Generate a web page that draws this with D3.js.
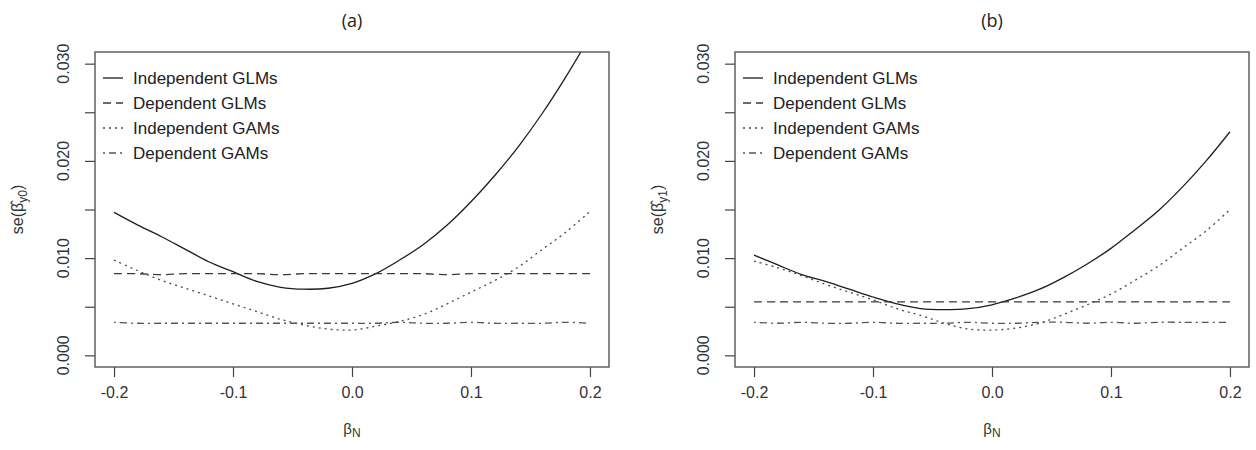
<!DOCTYPE html>
<html>
<head>
<meta charset="utf-8">
<script src="https://d3js.org/d3.v7.min.js"></script>
<style>
  body { margin: 0; background: #fff; }
  svg { display: block; }
</style>
</head>
<body>
<div id="chart"></div>
<script>
// x values (beta_N)
var betaN = [-0.20, -0.18, -0.16, -0.14, -0.12, -0.10, -0.08, -0.06, -0.04, -0.02,
              0.00, 0.02, 0.04, 0.06, 0.08, 0.10, 0.12, 0.14, 0.16, 0.18, 0.20];

// panel (a): se(beta_y0)
var indepGLM_a = [0.0147, 0.0134, 0.0122, 0.0109, 0.0096, 0.0086, 0.0076, 0.0070, 0.0068, 0.0069,
                  0.0074, 0.0084, 0.0098, 0.0114, 0.0134, 0.0158, 0.0185, 0.0215, 0.0249, 0.0287, 0.0328];
var depGLM_a   = [0.0084, 0.0084, 0.0083, 0.0084, 0.0084, 0.0084, 0.0084, 0.0083, 0.0084, 0.0084,
                  0.0084, 0.0084, 0.0084, 0.0084, 0.0083, 0.0084, 0.0084, 0.0084, 0.0084, 0.0084, 0.0084];
var indepGAM_a = [0.0098, 0.0087, 0.0077, 0.0069, 0.0061, 0.0053, 0.0045, 0.0037, 0.0031, 0.0027,
                  0.0026, 0.0030, 0.0035, 0.0042, 0.0053, 0.0065, 0.0077, 0.0091, 0.0109, 0.0127, 0.0148];
var depGAM_a   = [0.0034, 0.0033, 0.0033, 0.0033, 0.0033, 0.0033, 0.0033, 0.0033, 0.0033, 0.0033,
                  0.0033, 0.0033, 0.0034, 0.0033, 0.0033, 0.0034, 0.0033, 0.0033, 0.0033, 0.0034, 0.0033];

// panel (b): se(beta_y1)
var indepGLM_b = [0.0103, 0.0093, 0.0083, 0.0076, 0.0068, 0.0060, 0.0053, 0.0048, 0.0047, 0.0048,
                  0.0052, 0.0059, 0.0068, 0.0080, 0.0094, 0.0110, 0.0129, 0.0149, 0.0173, 0.0200, 0.0230];
var depGLM_b   = [0.0055, 0.0055, 0.0055, 0.0055, 0.0055, 0.0055, 0.0055, 0.0055, 0.0055, 0.0055,
                  0.0055, 0.0055, 0.0055, 0.0055, 0.0055, 0.0055, 0.0055, 0.0055, 0.0055, 0.0055, 0.0055];
var indepGAM_b = [0.0097, 0.0090, 0.0082, 0.0073, 0.0065, 0.0057, 0.0048, 0.0041, 0.0033, 0.0027,
                  0.0026, 0.0028, 0.0033, 0.0042, 0.0052, 0.0063, 0.0077, 0.0092, 0.0110, 0.0128, 0.0150];
var depGAM_b   = [0.0034, 0.0033, 0.0034, 0.0033, 0.0033, 0.0034, 0.0033, 0.0033, 0.0033, 0.0034,
                  0.0033, 0.0033, 0.0034, 0.0034, 0.0033, 0.0034, 0.0033, 0.0034, 0.0034, 0.0034, 0.0034];

var legendLabels = ["Independent GLMs", "Dependent GLMs", "Independent GAMs", "Dependent GAMs"];
var xTicks = [-0.2, -0.1, 0.0, 0.1, 0.2];
var yTicks = [0.000, 0.005, 0.010, 0.015, 0.020, 0.025, 0.030];
var yLabelTicks = [0.000, 0.010, 0.020, 0.030];

var styles = [
  {dash: null,        color: "#1e1e1e"},
  {dash: "8,5",       color: "#3a3a3a"},
  {dash: "2,4",       color: "#4a4a4a"},
  {dash: "2,4,7,4",   color: "#555555"}
];

var width = 1256, height = 450;
var plotW = 514, plotH = 315, plotTop = 52;

var svg = d3.select("#chart").append("svg")
            .attr("width", width)
            .attr("height", height);

svg.append("rect").attr("width", width).attr("height", height).attr("fill", "#fff");

function Panel(left, title, sub, series, id)
{
  var x = d3.scaleLinear().domain([-0.216, 0.216]).range([left, left + plotW]);
  var y = d3.scaleLinear().domain([-0.0012, 0.0312]).range([plotTop + plotH, plotTop]);

  var g = svg.append("g");

  g.append("clipPath").attr("id", "clip-" + id)
   .append("rect")
   .attr("x", left).attr("y", plotTop)
   .attr("width", plotW).attr("height", plotH);

  // x axis
  var xAxis = d3.axisBottom(x).tickValues(xTicks).tickSize(10).tickPadding(10);
  var gx = g.append("g").attr("transform", "translate(0," + (plotTop + plotH) + ")").call(xAxis);
  gx.select(".domain").remove();
  gx.selectAll("line").attr("stroke", "#444").attr("stroke-width", 1.2);
  gx.selectAll("text").attr("font-family", "Liberation Sans, Arial, sans-serif")
    .attr("font-size", 16).attr("fill", "#333").attr("dy", "0.71em")
    .text(function(d) { return d === 0 ? "0.0" : d3.format(".1f")(d).replace("\u2212", "-"); });

  // y axis (R style: every tick marked, every other labelled)
  var yAxis = d3.axisLeft(y).tickValues(yTicks).tickSize(10).tickFormat("");
  var gy = g.append("g").attr("transform", "translate(" + left + ",0)").call(yAxis);
  gy.select(".domain").remove();
  gy.selectAll("line").attr("stroke", "#444").attr("stroke-width", 1.2);

  g.selectAll(".ylab").data(yLabelTicks).enter().append("text")
   .attr("class", "ylab")
   .attr("transform", function(d) { return "translate(" + (left - 26) + "," + y(d) + ") rotate(-90)"; })
   .attr("text-anchor", "middle")
   .attr("font-family", "Liberation Sans, Arial, sans-serif")
   .attr("font-size", 16).attr("fill", "#333")
   .text(function(d) { return d3.format(".3f")(d); });

  // curves
  var line = d3.line()
               .x(function(d) { return x(d[0]); })
               .y(function(d) { return y(d[1]); })
               .curve(d3.curveCatmullRom);

  var lines = g.append("g").attr("clip-path", "url(#clip-" + id + ")");
  series.forEach(function(vals, i) {
    var pts = betaN.map(function(b, j) { return [b, vals[j]]; });
    lines.append("path")
         .attr("d", line(pts))
         .attr("fill", "none")
         .attr("stroke", styles[i].color)
         .attr("stroke-width", 1.3)
         .attr("stroke-dasharray", styles[i].dash);
  });

  // box
  g.append("rect")
   .attr("x", left).attr("y", plotTop)
   .attr("width", plotW).attr("height", plotH)
   .attr("fill", "none").attr("stroke", "#555").attr("stroke-width", 1.4);

  // legend
  var leg = g.append("g");
  legendLabels.forEach(function(lab, i) {
    var cy = plotTop + 26 + i * 25;
    leg.append("line")
       .attr("x1", left + 8).attr("x2", left + 28)
       .attr("y1", cy).attr("y2", cy)
       .attr("stroke", styles[i].color).attr("stroke-width", 1.3)
       .attr("stroke-dasharray", styles[i].dash);
    leg.append("text")
       .attr("x", left + 38).attr("y", cy)
       .attr("dy", "0.35em")
       .attr("font-family", "Liberation Sans, Arial, sans-serif")
       .attr("font-size", 17).attr("fill", "#222")
       .text(lab);
  });

  // title
  g.append("text")
   .attr("x", left + plotW / 2).attr("y", 27)
   .attr("text-anchor", "middle")
   .attr("font-family", "Open Sans, sans-serif")
   .attr("font-size", 18).attr("fill", "#222")
   .text(title);

  // x label
  var xl = g.append("text")
            .attr("x", left + plotW / 2).attr("y", 434)
            .attr("text-anchor", "middle")
            .attr("font-family", "Liberation Sans, Arial, sans-serif")
            .attr("font-size", 15).attr("fill", "#333");
  xl.append("tspan").text("\u03b2");
  xl.append("tspan").attr("font-size", 12).attr("dy", 3).text("N");

  // y label
  var yl = g.append("text")
            .attr("transform", "translate(" + (left - 72) + "," + (plotTop + plotH / 2) + ") rotate(-90)")
            .attr("text-anchor", "middle")
            .attr("font-family", "Liberation Sans, Arial, sans-serif")
            .attr("font-size", 16).attr("fill", "#333");
  yl.append("tspan").text("se(\u03b2\u0302");
  yl.append("tspan").attr("font-size", 12).attr("dy", 4).text(sub);
  yl.append("tspan").attr("dy", -4).text(")");
}

Panel(95, "(a)", "y0", [indepGLM_a, depGLM_a, indepGAM_a, depGAM_a], "a");
Panel(735, "(b)", "y1", [indepGLM_b, depGLM_b, indepGAM_b, depGAM_b], "b");
</script>
</body>
</html>
